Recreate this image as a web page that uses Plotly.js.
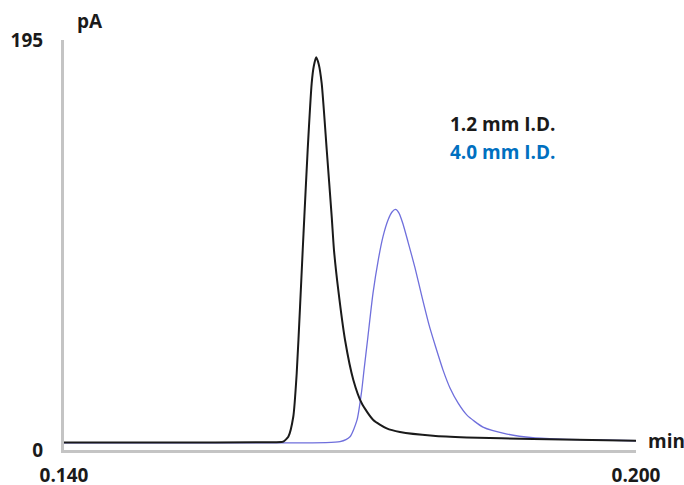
<!DOCTYPE html>
<html>
<head>
<meta charset="utf-8">
<script src="https://cdn.plot.ly/plotly-3.0.1.min.js"></script>
<style>html,body{margin:0;padding:0;background:#fff;}#chart{width:684px;height:485px;}</style>
</head>
<body>
<div id="chart"></div>
<script>
// Retention time (min) and signal (pA)
const timeNarrow = [0.1400, 0.1543, 0.1628, 0.1630, 0.16353, 0.16405, 0.16441, 0.16476, 0.16504, 0.16521, 0.16556, 0.16598, 0.16620, 0.16645, 0.16672, 0.16703, 0.16756, 0.16808, 0.16832, 0.16877, 0.16948, 0.17035, 0.17123, 0.17244, 0.17385, 0.17524, 0.17871, 0.18224, 0.18920, 0.2000];
const signalNarrow = [3.6, 3.6, 3.8, 3.95, 6.3, 15.8, 36.5, 68.2, 95.1, 111.0, 142.7, 174.4, 182.5, 186.8, 183.5, 174.4, 142.7, 111.0, 95.1, 76.1, 52.3, 33.3, 22.2, 14.3, 10.3, 8.6, 6.8, 6.0, 5.2, 4.4];

const timeWide = [0.1400, 0.1600, 0.16895, 0.17000, 0.17074, 0.17121, 0.17147, 0.17184, 0.17241, 0.17299, 0.17346, 0.17399, 0.17441, 0.17477, 0.17514, 0.17556, 0.17609, 0.17682, 0.17755, 0.17829, 0.17902, 0.17976, 0.18049, 0.18133, 0.18227, 0.18395, 0.18647, 0.18920, 0.19277, 0.2000];
const signalWide = [3.4, 3.4, 3.95, 6.3, 14.3, 27.6, 38.0, 52.3, 74.5, 91.0, 101.5, 109.4, 113.2, 114.4, 112.7, 107.5, 98.9, 86.6, 72.8, 59.5, 48.5, 38.0, 29.5, 22.4, 16.6, 10.9, 7.6, 5.85, 5.1, 4.4];

const seriesNames = ["1.2 mm I.D.", "4.0 mm I.D."];
const xTickVals = [0.140, 0.200];
const xTickText = ["<b>0.140</b>", "<b>0.200</b>"];
const yTickVals = [0, 195];
const yTickText = ["<b>0</b>", "<b>195</b>"];
const xUnit = "min";
const yUnit = "pA";

const FONT = "'Open Sans', 'Liberation Sans', sans-serif";
const fnt = (c) => ({family: FONT, size: 19, color: c, weight: 700});

const traces = [
  {x: timeWide, y: signalWide, type: "scatter", mode: "lines", name: seriesNames[1],
   line: {color: "#6f6fdc", width: 1.3, shape: "spline", smoothing: 0.6}},
  {x: timeNarrow, y: signalNarrow, type: "scatter", mode: "lines", name: seriesNames[0],
   line: {color: "#1a1a1a", width: 2, shape: "spline", smoothing: 0.6}}
];

const annotations = [];
annotations.push({xref: "paper", yref: "paper", x: 0.0455, y: 1.046, text: "<b>" + yUnit + "</b>",
  showarrow: false, xanchor: "center", yanchor: "middle", font: fnt("#1a1a1a")});
annotations.push({xref: "paper", yref: "paper", x: 1.0175, y: 0.022, text: "<b>" + xUnit + "</b>",
  showarrow: false, xanchor: "left", yanchor: "middle", font: fnt("#1a1a1a")});
annotations.push({xref: "paper", yref: "paper", x: 0.7675, y: 0.795, text: "<b>" + seriesNames[0] + "</b>",
  showarrow: false, xanchor: "center", yanchor: "middle", font: fnt("#1a1a1a")});
annotations.push({xref: "paper", yref: "paper", x: 0.7675, y: 0.727, text: "<b>" + seriesNames[1] + "</b>",
  showarrow: false, xanchor: "center", yanchor: "middle", font: fnt("#0070c0")});

const layout = {
  width: 684, height: 485,
  margin: {l: 64, r: 48, t: 40, b: 35},
  paper_bgcolor: "#ffffff", plot_bgcolor: "#ffffff",
  showlegend: false,
  xaxis: {range: [0.140, 0.200], showline: true, linecolor: "#c4c4c4", linewidth: 3,
    showgrid: false, zeroline: false, ticks: "", tickmode: "array", tickvals: xTickVals, ticktext: xTickText,
    tickfont: fnt("#1a1a1a"), ticklabelstandoff: 6, automargin: false, fixedrange: true},
  yaxis: {range: [0, 195], showline: true, linecolor: "#c4c4c4", linewidth: 3,
    showgrid: false, zeroline: false, ticks: "", tickmode: "array", tickvals: yTickVals, ticktext: yTickText,
    tickfont: fnt("#1a1a1a"), ticklabelstandoff: 14, automargin: false, fixedrange: true},
  annotations: annotations
};

Plotly.newPlot("chart", traces, layout, {staticPlot: true, displayModeBar: false});
</script>
</body>
</html>
